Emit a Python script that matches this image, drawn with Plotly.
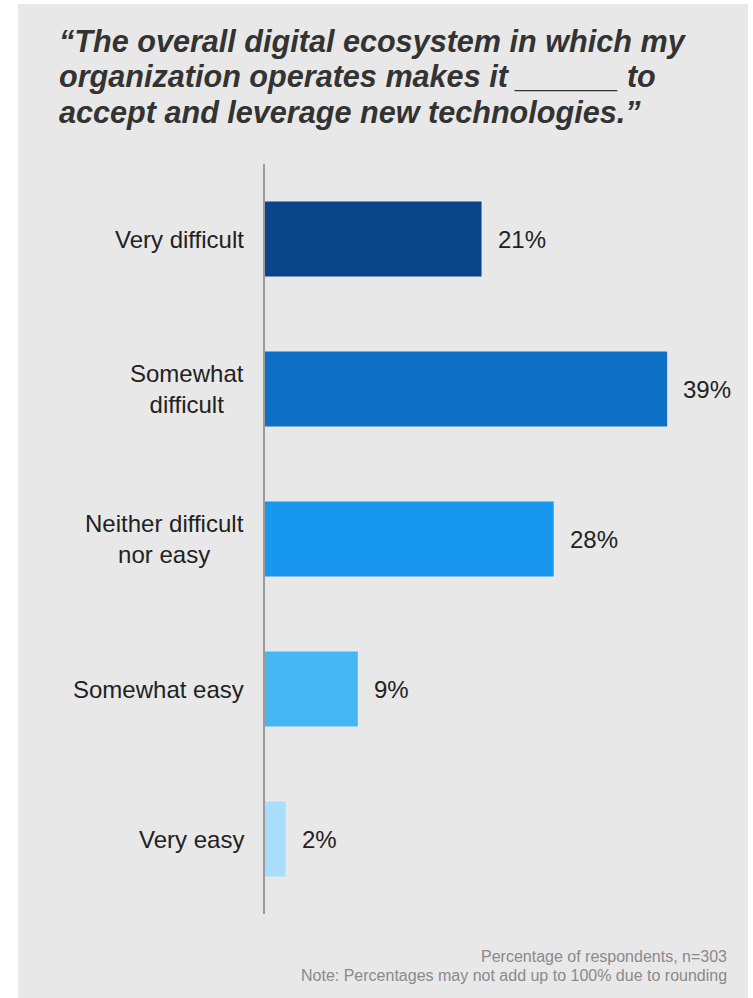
import plotly.graph_objects as go

# Survey responses
categories = ["Very difficult", "Somewhat difficult", "Neither difficult nor easy",
              "Somewhat easy", "Very easy"]
category_labels = ["Very difficult", "Somewhat<br>difficult", "Neither difficult<br>nor easy",
                   "Somewhat easy", "Very easy"]
values = [21, 39, 28, 9, 2]
value_labels = ["21%", "39%", "28%", "9%", "2%"]
bar_colors = ["#0a4489", "#0f71c6", "#1797ef", "#46b7f5", "#a8ddfb"]

title_lines = ["“The overall digital ecosystem in which my",
               "organization operates makes it ______ to",
               "accept and leverage new technologies.”"]
footnote_lines = ["Percentage of respondents, n=303",
                  "Note: Percentages may not add up to 100% due to rounding"]

W, H = 753, 998
L, R, T, B = 265, 24, 164, 84
plot_w = W - L - R
plot_h = H - T - B

FONT = "Liberation Sans, Arial, Helvetica, sans-serif"


def px_x(x):
    return (x - L) / plot_w


def px_y(y):
    return (T + plot_h - y) / plot_h


fig = go.Figure()
fig.add_trace(go.Bar(
    x=values,
    y=categories,
    orientation="h",
    width=0.5,
    marker=dict(color=bar_colors, line=dict(width=0)),
    hoverinfo="skip",
))

annotations = []
# value labels to the right of each bar
for cat, v, lab in zip(categories, values, value_labels):
    annotations.append(dict(
        x=v, y=cat, xref="x", yref="y", text=lab, showarrow=False,
        xanchor="left", yanchor="middle", xshift=14,
        font=dict(family=FONT, size=24, color="#222222"),
    ))
# category labels, centred block right-aligned against the axis
for cat, lab in zip(categories, category_labels):
    annotations.append(dict(
        x=0, y=cat, xref="paper", yref="y", text=lab, showarrow=False,
        xanchor="right", yanchor="middle", align="center", xshift=-19,
        font=dict(family=FONT, size=24, color="#222222"),
    ))
# title, one line per annotation
for line, mid in zip(title_lines, [41, 77, 112]):
    annotations.append(dict(
        x=px_x(57), y=px_y(mid), xref="paper", yref="paper", text=line,
        showarrow=False, xanchor="left", yanchor="middle",
        font=dict(family=FONT, size=30.6, color="#333333", weight="bold", style="italic"),
    ))
# footnote
for line, mid in zip(footnote_lines, [956, 975]):
    annotations.append(dict(
        x=1, y=px_y(mid), xref="paper", yref="paper", text=line,
        showarrow=False, xanchor="right", yanchor="middle",
        font=dict(family=FONT, size=16, color="#8a8a8a"),
    ))

fig.update_layout(
    width=W, height=H,
    margin=dict(l=L, r=R, t=T, b=B, pad=0),
    paper_bgcolor="white",
    plot_bgcolor="rgba(0,0,0,0)",
    showlegend=False,
    xaxis=dict(range=[0, 45], visible=False, fixedrange=True),
    yaxis=dict(
        categoryorder="array", categoryarray=categories,
        range=[4.5, -0.5], showticklabels=False, ticks="",
        showgrid=False, zeroline=False,
        showline=True, linecolor="#9a9a9a", linewidth=2,
    ),
    shapes=[dict(
        type="rect", xref="paper", yref="paper", layer="below",
        x0=px_x(18), x1=px_x(748), y0=px_y(H), y1=px_y(4),
        fillcolor="#e8e8e8", line=dict(width=0),
    )],
    annotations=annotations,
)

fig.write_html("out.html")
